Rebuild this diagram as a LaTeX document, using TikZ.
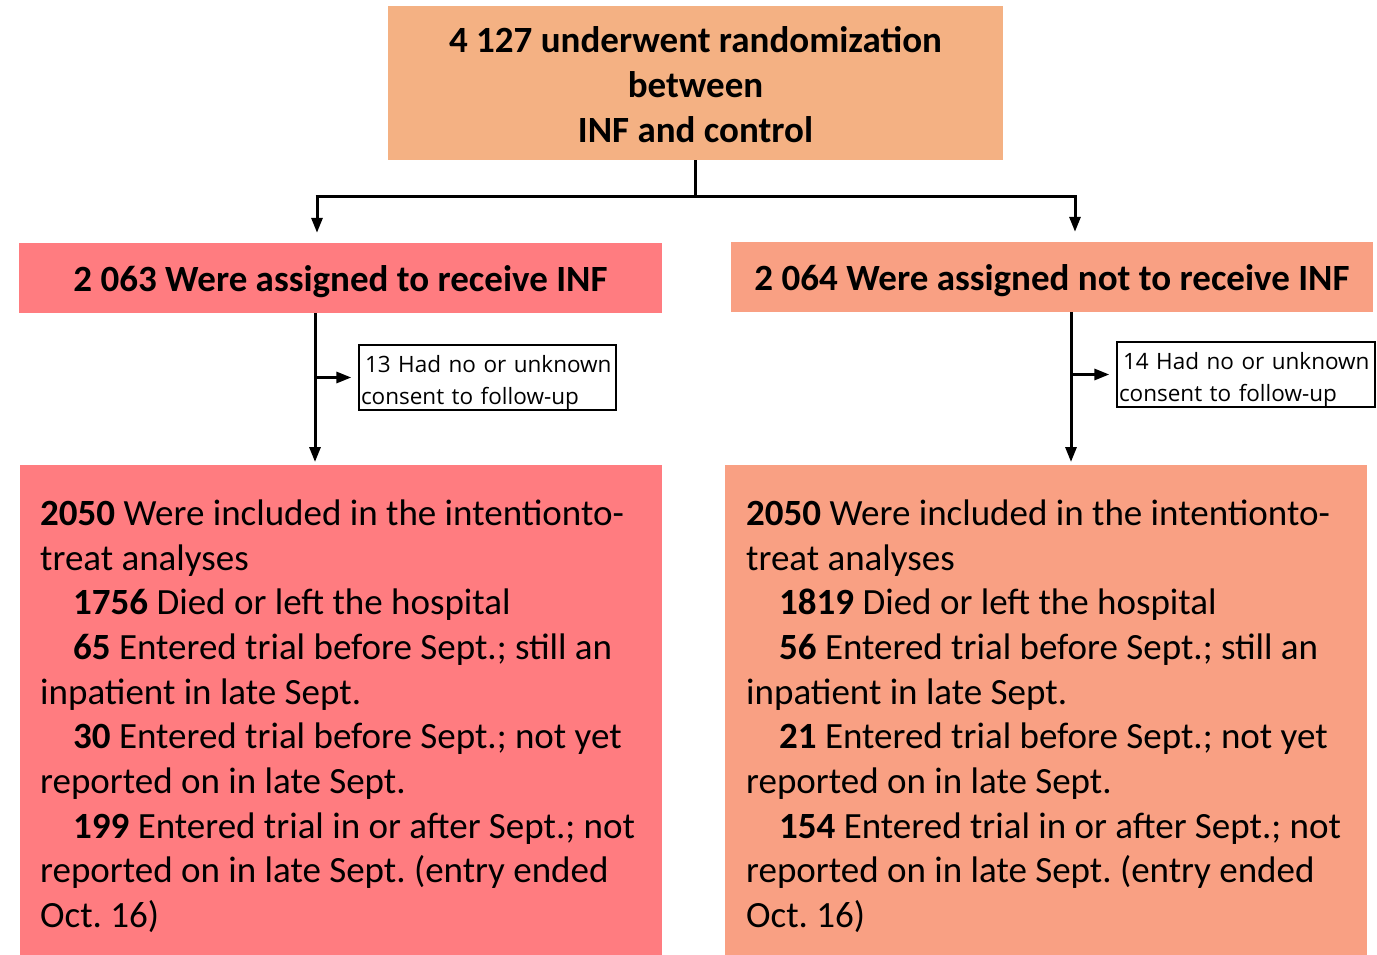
\documentclass[tikz,border=0pt]{standalone}
\usepackage{fontspec}
\setmainfont{Carlito}
\newfontfamily\smallfont{Open Sans}
\usetikzlibrary{arrows.meta,calc}
\definecolor{topc}{HTML}{F4B183}
\definecolor{leftc}{HTML}{FF7C80}
\definecolor{rightc}{HTML}{F9A083}
\frenchspacing
\newcommand{\lowered}[2]{\raisebox{-#1}[\height][\depth]{#2}}
\tikzset{
  conn/.style={line width=3pt, -{Triangle[length=15pt,width=11pt]}},
  plain/.style={line width=3pt},
  midbox/.style={minimum height=70pt, inner sep=0pt, font=\fontsize{37}{44}\selectfont\bfseries},
  notebox/.style={draw, line width=1.3pt, minimum height=65pt, inner xsep=2pt, inner ysep=0pt, text width=253pt, align=left, font=\smallfont\fontsize{22.5}{32}\selectfont},
  bigtext/.style={anchor=north west, inner sep=0pt, align=left, font=\fontsize{37}{44.7}\selectfont}
}
\begin{document}
\begin{tikzpicture}[x=1pt,y=-1pt]
\useasboundingbox (0,0) rectangle (1377,955);
% boxes
\node[fill=topc, minimum width=615pt, minimum height=154pt, inner sep=0pt, align=center,
      font=\fontsize{37}{45}\selectfont\bfseries] (top) at (695.5,83)
  {\lowered{2pt}{4 127 underwent randomization}\\\lowered{2pt}{between}\\\lowered{2pt}{INF and control}};
\node[midbox, fill=leftc, minimum width=643pt] (lmid) at (340.5,278) {\lowered{4pt}{2 063 Were assigned to receive INF}};
\node[midbox, fill=rightc, minimum width=642pt] (rmid) at (1052,277) {\lowered{4pt}{2 064 Were assigned not to receive INF}};
\node[notebox] (lnote) at (487.5,377.5) {\lowered{5pt}{\hspace*{4pt}13 Had no or unknown}\\\lowered{5pt}{consent to follow-up}};
\node[notebox, text width=254pt] (rnote) at (1246,374.5) {\lowered{5pt}{\hspace*{4pt}14 Had no or unknown}\\\lowered{5pt}{consent to follow-up}};
\fill[leftc] (20,465) rectangle (662,955);
\fill[rightc] (725,465) rectangle (1367,955);
\coordinate (lbox) at (315,465);
\coordinate (rbox) at (1071,465);
\node[bigtext] (ltext) at (40,499.5) {%
\textbf{2050} Were included in the intentionto-\\
treat analyses\\
\hspace*{33pt}\textbf{1756} Died or left the hospital\\
\hspace*{33pt}\textbf{65} Entered trial before Sept.; still an\\
inpatient in late Sept.\\
\hspace*{33pt}\textbf{30} Entered trial before Sept.; not yet\\
reported on in late Sept.\\
\hspace*{33pt}\textbf{199} Entered trial in or after Sept.; not\\
reported on in late Sept. (entry ended\\
Oct. 16)};
\node[bigtext] (rtext) at (746,499.5) {%
\textbf{2050} Were included in the intentionto-\\
treat analyses\\
\hspace*{33pt}\textbf{1819} Died or left the hospital\\
\hspace*{33pt}\textbf{56} Entered trial before Sept.; still an\\
inpatient in late Sept.\\
\hspace*{33pt}\textbf{21} Entered trial before Sept.; not yet\\
reported on in late Sept.\\
\hspace*{33pt}\textbf{154} Entered trial in or after Sept.; not\\
reported on in late Sept. (entry ended\\
Oct. 16)};
% connectors
\coordinate (jl) at (317,197);
\coordinate (jr) at (1075,197);
\draw[line width=3.5pt] (top.south) -- (top.south |- jl);
\draw[plain] ([xshift=-1.5pt]jl) -- ([xshift=1.5pt]jr);
\draw[conn, shorten >=10pt] (jl) -- (jl |- lmid.north);
\draw[conn, shorten >=10pt] (jr) -- (jr |- rmid.north);
\draw[conn, shorten >=3pt] (lbox |- lmid.south) -- (lbox);
\draw[conn, shorten >=3pt] (rbox |- rmid.south) -- (rbox);
\draw[conn, shorten >=7pt] (lbox |- lnote.west) -- (lnote.west);
\draw[conn, shorten >=7pt] (rbox |- rnote.west) -- (rnote.west);
\end{tikzpicture}
\end{document}
